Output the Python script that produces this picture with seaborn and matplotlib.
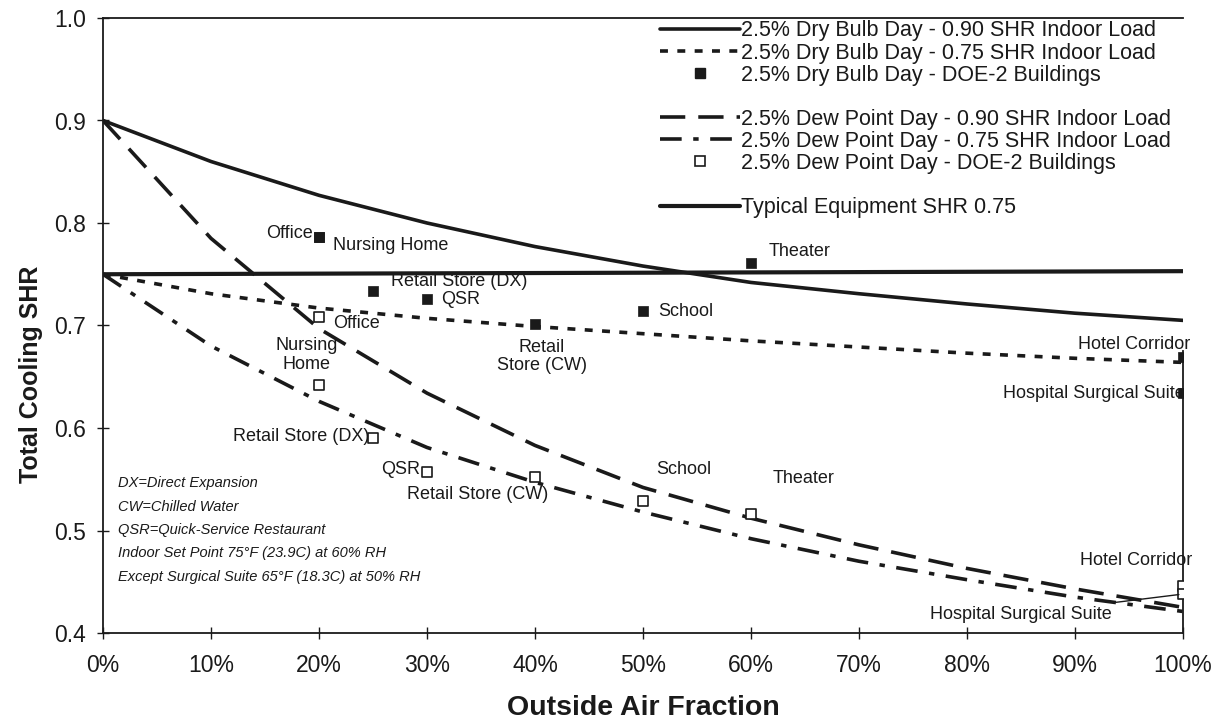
import matplotlib
matplotlib.use("Agg")
import matplotlib.pyplot as plt
from matplotlib.lines import Line2D
from matplotlib.ticker import PercentFormatter, MultipleLocator
import seaborn as sns
import pandas as pd

# Outside-air fraction grid for the calculated curves
oa_frac = [0.0, 0.1, 0.2, 0.3, 0.4, 0.5, 0.6, 0.7, 0.8, 0.9, 1.0]
db_shr_090 = [0.900, 0.860, 0.827, 0.800, 0.777, 0.758, 0.742, 0.731, 0.721, 0.712, 0.705]
db_shr_075 = [0.750, 0.731, 0.717, 0.707, 0.699, 0.692, 0.685, 0.679, 0.673, 0.668, 0.664]
dp_shr_090 = [0.900, 0.785, 0.697, 0.634, 0.583, 0.542, 0.512, 0.486, 0.463, 0.443, 0.425]
dp_shr_075 = [0.750, 0.680, 0.626, 0.581, 0.547, 0.518, 0.492, 0.470, 0.452, 0.435, 0.421]
equip_oa = [0.0, 1.0]
equip_shr = [0.750, 0.753]

# DOE-2 building results
bldg_names = ["Office", "Nursing Home", "Retail Store (DX)", "QSR", "Retail Store (CW)",
              "School", "Theater", "Hotel Corridor", "Hospital Surgical Suite"]
bldg_oa = [0.20, 0.20, 0.25, 0.30, 0.40, 0.50, 0.60, 1.00, 1.00]
db_bldg_shr = [0.786, 0.786, 0.734, 0.726, 0.701, 0.714, 0.761, 0.669, 0.634]
dp_bldg_shr = [0.708, 0.642, 0.590, 0.557, 0.552, 0.529, 0.516, 0.446, 0.438]

sns.set_theme(style="white")
plt.rcParams["font.family"] = ["Liberation Sans", "DejaVu Sans"]

fig = plt.figure(figsize=(12.31, 7.23), dpi=100)
ax = fig.add_axes([103 / 1231, 90 / 723, 1080 / 1231, 615 / 723])

curves = pd.DataFrame({"oa": oa_frac, "db90": db_shr_090, "db75": db_shr_075,
                       "dp90": dp_shr_090, "dp75": dp_shr_075})
bldg = pd.DataFrame({"name": bldg_names, "oa": bldg_oa, "db": db_bldg_shr, "dp": dp_bldg_shr})
equip = pd.DataFrame({"oa": equip_oa, "shr": equip_shr})

black = "#1a1a1a"
styles = {
    "db90": dict(lw=2.6, dashes=None),
    "db75": dict(lw=2.6, dashes=(2.2, 2.6)),
    "dp90": dict(lw=2.6, dashes=(7.0, 3.6)),
    "dp75": dict(lw=2.6, dashes=(6.0, 3.2, 1.5, 3.2)),
}
for col, st in styles.items():
    sns.lineplot(data=curves, x="oa", y=col, ax=ax, color=black, lw=st["lw"])
    if st["dashes"] is not None:
        ax.lines[-1].set_dashes(st["dashes"])
        ax.lines[-1].set_dash_capstyle("butt")

sns.lineplot(data=equip, x="oa", y="shr", ax=ax, color=black, lw=3.0)

sns.scatterplot(data=bldg, x="oa", y="db", ax=ax, marker="s", s=60,
                color=black, edgecolor=black, linewidth=0.5, zorder=5)
sns.scatterplot(data=bldg, x="oa", y="dp", ax=ax, marker="s", s=50,
                facecolor="white", edgecolor=black, linewidth=1.2, zorder=5)

lab_fs = 13
# label offsets in pixels (dx, dy, ha)
db_offsets = {
    "Office": (-6, 4, "right"),
    "Nursing Home": (14, -8, "left"),
    "Retail Store (DX)": (18, 9, "left"),
    "QSR": (14, -1, "left"),
    "Retail Store (CW)": (7, -32, "center"),
    "School": (15, 0, "left"),
    "Theater": (18, 11, "left"),
    "Hotel Corridor": (7, 13, "right"),
    "Hospital Surgical Suite": (2, 0, "right"),
}
db_text = {"Retail Store (CW)": "Retail\nStore (CW)"}
for name, x, y in zip(bldg_names, bldg_oa, db_bldg_shr):
    dx, dy, ha = db_offsets[name]
    ax.annotate(db_text.get(name, name), (x, y), xytext=(dx, dy), textcoords="offset pixels",
                ha=ha, va="center", fontsize=lab_fs, color=black, linespacing=1.1, zorder=6)

dp_offsets = {
    "Office": (14, -6, "left"),
    "Nursing Home": (-12, 30, "center"),
    "Retail Store (DX)": (-4, 2, "right"),
    "QSR": (-7, 3, "right"),
    "Retail Store (CW)": (-57, -17, "center"),
    "School": (13, 31, "left"),
    "Theater": (22, 36, "left"),
    "Hotel Corridor": (9, 25, "right"),
    "Hospital Surgical Suite": (-71, -20, "right"),
}
dp_text = {"Nursing Home": "Nursing\nHome"}
for name, x, y in zip(bldg_names, bldg_oa, dp_bldg_shr):
    dx, dy, ha = dp_offsets[name]
    kw = {}
    if name == "Hospital Surgical Suite":
        kw["arrowprops"] = dict(arrowstyle="-", color=black, lw=1.0, shrinkA=0, shrinkB=3)
    ax.annotate(dp_text.get(name, name), (x, y), xytext=(dx, dy), textcoords="offset pixels",
                ha=ha, va="center", fontsize=lab_fs, color=black, linespacing=1.1, zorder=6, **kw)

notes = ("DX=Direct Expansion\nCW=Chilled Water\nQSR=Quick-Service Restaurant\n"
         "Indoor Set Point 75\u00b0F (23.9C) at 60% RH\n"
         "Except Surgical Suite 65\u00b0F (18.3C) at 50% RH")
ax.text(0.014, 0.553, notes, transform=ax.get_yaxis_transform(), ha="left", va="top",
        fontsize=10.5, style="italic", color=black, linespacing=1.85)

ax.set_xlim(0, 1)
ax.set_ylim(0.4, 1.0)
ax.xaxis.set_major_locator(MultipleLocator(0.1))
ax.xaxis.set_major_formatter(PercentFormatter(1.0, decimals=0))
ax.yaxis.set_major_locator(MultipleLocator(0.1))
ax.yaxis.set_major_formatter(lambda v, p: f"{v:.1f}")
ax.tick_params(axis="both", which="major", direction="inout", length=8, width=1,
               color=black, labelsize=16.5, labelcolor=black, left=True, bottom=True)
ax.tick_params(axis="x", pad=11)
ax.tick_params(axis="y", pad=8)
ax.set_xlabel("Outside Air Fraction", fontsize=20.5, fontweight="bold", labelpad=13, color=black)
ax.set_ylabel("Total Cooling SHR", fontsize=18, fontweight="bold", color=black)
ax.yaxis.set_label_coords(-0.056, 0.42)
for sp in ax.spines.values():
    sp.set_color(black)
    sp.set_linewidth(1.3)
ax.spines["right"].set_bounds(0.4, 0.675)

blank = Line2D([], [], color="none")
handles = [
    Line2D([], [], color=black, lw=2.6),
    Line2D([], [], color=black, lw=2.6, dashes=styles["db75"]["dashes"]),
    Line2D([], [], color=black, marker="s", ls="none", markersize=7),
    blank,
    Line2D([], [], color=black, lw=2.6, dashes=styles["dp90"]["dashes"]),
    Line2D([], [], color=black, lw=2.6, dashes=styles["dp75"]["dashes"]),
    Line2D([], [], color=black, marker="s", ls="none", markersize=6.5,
           markerfacecolor="white", markeredgewidth=1.2),
    blank,
    Line2D([], [], color=black, lw=3.0),
]
labels = [
    "2.5% Dry Bulb Day - 0.90 SHR Indoor Load",
    "2.5% Dry Bulb Day - 0.75 SHR Indoor Load",
    "2.5% Dry Bulb Day - DOE-2 Buildings",
    "",
    "2.5% Dew Point Day - 0.90 SHR Indoor Load",
    "2.5% Dew Point Day - 0.75 SHR Indoor Load",
    "2.5% Dew Point Day - DOE-2 Buildings",
    "",
    "Typical Equipment SHR 0.75",
]
leg = ax.legend(handles, labels, loc="upper left", bbox_to_anchor=(548 / 1080, 1.010),
                frameon=False, fontsize=15.5, handlelength=3.75, handletextpad=0.05,
                labelspacing=0.05, borderaxespad=0.0, labelcolor=black)

fig.savefig("out.png", dpi=100, facecolor="white")
